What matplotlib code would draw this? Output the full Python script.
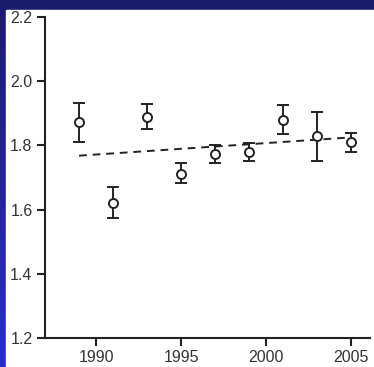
import numpy as np
import matplotlib
matplotlib.use("Agg")
import matplotlib.pyplot as plt
from matplotlib.patches import Rectangle
from matplotlib.colors import LinearSegmentedColormap

years = [1989, 1991, 1993, 1995, 1997, 1999, 2001, 2003, 2005]
values = [1.873, 1.620, 1.890, 1.711, 1.772, 1.779, 1.878, 1.829, 1.810]
upper = [1.932, 1.670, 1.929, 1.745, 1.801, 1.807, 1.926, 1.905, 1.839]
lower = [1.810, 1.574, 1.851, 1.683, 1.745, 1.751, 1.835, 1.751, 1.779]
trend_years = [1989, 2005]
trend_values = [1.768, 1.825]
xticks = [1990, 1995, 2000, 2005]
yticks = [1.2, 1.4, 1.6, 1.8, 2.0, 2.2]

plt.rcParams['font.family'] = ['Liberation Sans', 'DejaVu Sans']

W, H = 374, 367
fig = plt.figure(figsize=(W / 100, H / 100), dpi=100)

# background gradient (blue frame)
bg = fig.add_axes([0, 0, 1, 1], zorder=-10)
grad = np.linspace(0, 1, 256).reshape(-1, 1)
cmap = LinearSegmentedColormap.from_list('b', ['#1c1c6c', '#2b2bd2'])
bg.imshow(grad, aspect='auto', cmap=cmap, extent=[0, 1, 1, 0])
bg.set_xlim(0, 1)
bg.set_ylim(1, 0)
bg.axis('off')
bg.add_patch(Rectangle((6 / W, 0), 1, 1 - 10 / H, color='white',
                       transform=bg.transAxes, zorder=5))

ax = fig.add_axes([45 / W, 29 / H, (370 - 45) / W, (338 - 17) / H])
ax.patch.set_alpha(0)

yerr = [np.array(values) - np.array(lower), np.array(upper) - np.array(values)]
ax.errorbar(years, values, yerr=yerr, fmt='o', mfc='white', mec='#222222',
            ecolor='#222222', ms=6.5, mew=1.4, capsize=4, capthick=1.5,
            elinewidth=1.4, zorder=3)
ax.plot(trend_years, trend_values, linestyle=(0, (4, 3)), color='#222222', lw=1.4, zorder=2)

ax.set_xlim(1987, 2006.1)
ax.set_ylim(1.2, 2.2)
ax.set_xticks(xticks)
ax.set_yticks(yticks)
ax.set_yticklabels([f"{v:.1f}" for v in yticks])
for s in ['top', 'right']:
    ax.spines[s].set_visible(False)
for s in ['left', 'bottom']:
    ax.spines[s].set_linewidth(1.5)
    ax.spines[s].set_color('#222222')
ax.tick_params(axis='both', direction='out', length=6, width=1.5, color='#222222',
               labelsize=11.5, labelcolor='#333333', pad=3)

fig.savefig('out.png', dpi=100)
